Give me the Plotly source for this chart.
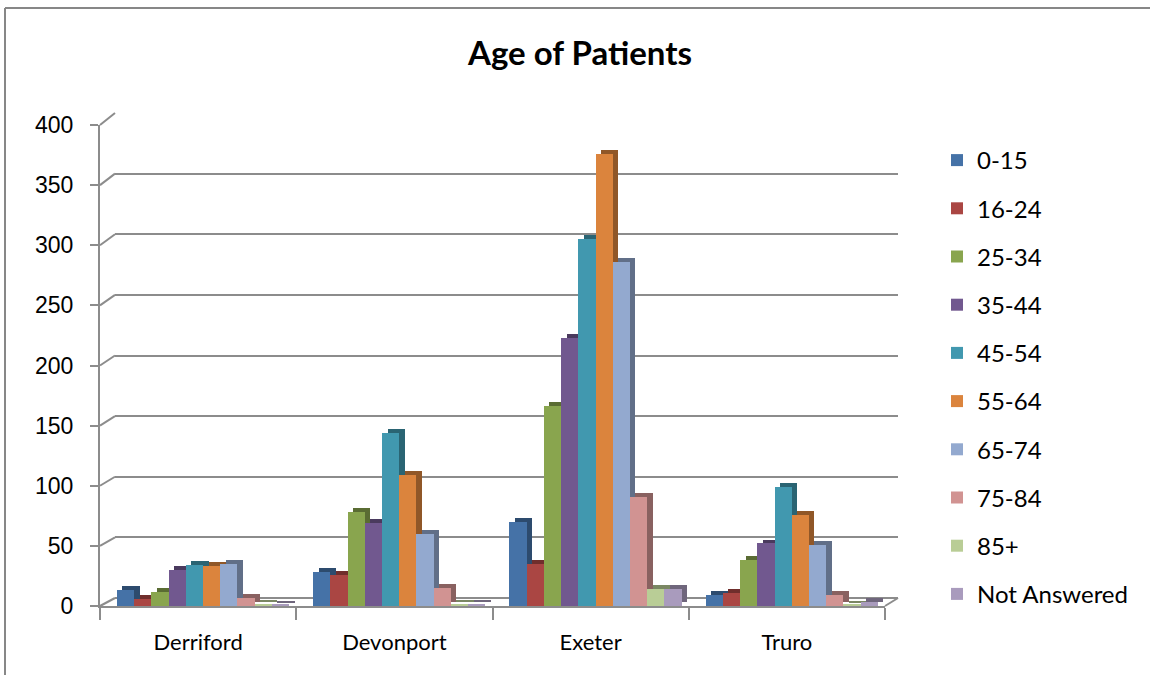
import plotly.graph_objects as go

sites = ["Derriford", "Devonport", "Exeter", "Truro"]
age_groups = ["0-15", "16-24", "25-34", "35-44", "45-54", "55-64", "65-74", "75-84", "85+", "Not Answered"]
v_0_15 = [13, 28, 70, 9]
v_16_24 = [6, 26, 35, 11]
v_25_34 = [12, 78, 166, 38]
v_35_44 = [30, 69, 223, 52]
v_45_54 = [34, 144, 305, 99]
v_55_64 = [33, 109, 376, 76]
v_65_74 = [35, 60, 286, 51]
v_75_84 = [7, 15, 91, 9]
v_85_plus = [2, 2, 14, 1]
v_not_answered = [1, 2, 14, 3]
series = [v_0_15, v_16_24, v_25_34, v_35_44, v_45_54, v_55_64, v_65_74, v_75_84, v_85_plus, v_not_answered]
y_ticks = [0, 50, 100, 150, 200, 250, 300, 350, 400]

colors = ['#4572A7', '#AA4643', '#89A54E', '#71588F', '#4198AF',
          '#DB843D', '#93A9CF', '#D19392', '#B9CD96', '#A99BBD']


def darker(hexc, f=0.66):
    h = hexc.lstrip('#')
    r, g, b = (int(h[i:i + 2], 16) for i in (0, 2, 4))
    return '#%02x%02x%02x' % (int(r * f), int(g * f), int(b * f))


W, H = 1150, 675


def px(p):
    return p / W


def py(p):
    return 1 - p / H


# front plane (pixels)
fx0, fx1 = 100, 885
fy0, fy1 = 606, 125
# back wall (pixels)
bx0, bx1 = 115, 898
by0, by1 = 598, 113

bar_w = 0.0877
shift = 0.025
depth_dx = 0.028
depth_dy = 3.3

fig = go.Figure()

# invisible trace to create the back-wall subplot
fig.add_trace(go.Scatter(x=[None], y=[None], xaxis='x', yaxis='y',
                         showlegend=False, hoverinfo='skip'))

n = len(series)
# depth (side) faces first
for i, (name, vals) in enumerate(zip(age_groups, series)):
    off = -n * bar_w / 2 + i * bar_w + shift
    fig.add_trace(go.Bar(
        x=sites, y=vals, base=depth_dy, offset=off + depth_dx, width=bar_w,
        marker=dict(color=darker(colors[i]), line=dict(width=0)),
        xaxis='x2', yaxis='y2', showlegend=False, hoverinfo='skip'))
# front faces
for i, (name, vals) in enumerate(zip(age_groups, series)):
    off = -n * bar_w / 2 + i * bar_w + shift
    fig.add_trace(go.Bar(
        x=sites, y=vals, base=0, offset=off, width=bar_w, name=name,
        legendgroup=name,
        marker=dict(color=colors[i], line=dict(width=0)),
        xaxis='x2', yaxis='y2'))

grid_col = '#8c8c8c'

shapes = []
# diagonal connectors at the left wall for each tick
for t in y_ticks:
    yf = fy0 + (fy1 - fy0) * t / 400
    yb = by0 + (by1 - by0) * t / 400
    shapes.append(dict(type='line', xref='paper', yref='paper',
                       x0=px(fx0), y0=py(yf), x1=px(bx0), y1=py(yb),
                       line=dict(color=grid_col, width=2)))
# right floor diagonal
shapes.append(dict(type='line', xref='paper', yref='paper',
                   x0=px(fx1), y0=py(fy0), x1=px(bx1), y1=py(by0),
                   line=dict(color=grid_col, width=2)))
# chart border (top and left edges)
shapes.append(dict(type='line', xref='paper', yref='paper',
                   x0=px(5), y0=py(8), x1=1, y1=py(8),
                   line=dict(color='#878787', width=2)))
shapes.append(dict(type='line', xref='paper', yref='paper',
                   x0=px(5), y0=py(8), x1=px(5), y1=0,
                   line=dict(color='#878787', width=2)))

fig.update_layout(
    template='none',
    width=W, height=H,
    autosize=False,
    margin=dict(l=0, r=0, t=0, b=0, pad=0),
    paper_bgcolor='white', plot_bgcolor='rgba(0,0,0,0)',
    barmode='overlay', bargap=0,
    title=dict(text='<b>Age of Patients</b>', x=px(580), xanchor='center',
               y=py(53), yanchor='middle',
               font=dict(family='Lato', size=33, color='black')),
    xaxis=dict(domain=[px(bx0), px(bx1)], range=[0, 1], anchor='y',
               showgrid=False, zeroline=False, showticklabels=False,
               showline=False, automargin=False, ticks=''),
    yaxis=dict(domain=[py(by0), py(by1)], range=[0, 400], anchor='x',
               dtick=50, showgrid=True, gridcolor=grid_col, gridwidth=2,
               zeroline=True, zerolinecolor=grid_col, zerolinewidth=2,
               showticklabels=False, showline=False, automargin=False, ticks=''),
    xaxis2=dict(domain=[px(fx0), px(fx1)], range=[-0.5, 3.5], anchor='y2',
                type='category', showgrid=False, zeroline=False,
                showline=True, linecolor=grid_col, linewidth=2,
                ticks='outside', tickson='boundaries', ticklen=12,
                tickcolor=grid_col, tickwidth=2, automargin=False,
                tickfont=dict(family='Lato', size=22, color='black'),
                ticklabelstandoff=16),
    yaxis2=dict(domain=[py(fy0), py(fy1)], range=[0, 400], anchor='x2',
                tickvals=y_ticks, showgrid=False, zeroline=False,
                showline=True, linecolor=grid_col, linewidth=2,
                ticks='outside', ticklen=8, tickcolor=grid_col, tickwidth=2,
                automargin=False,
                tickfont=dict(family='Liberation Sans', size=23, color='black'),
                ticklabelstandoff=12),
    legend=dict(x=px(937), xanchor='left', y=py(138), yanchor='top',
                traceorder='grouped', tracegroupgap=14,
                font=dict(family='Lato', size=24, color='black'),
                bgcolor='rgba(0,0,0,0)', borderwidth=0),
    shapes=shapes,
    showlegend=True,
)

fig.write_html("out.html",
               config={'displayModeBar': False},
               post_script="document.body.style.margin='0';document.body.style.padding='0';document.body.style.overflow='hidden';")
